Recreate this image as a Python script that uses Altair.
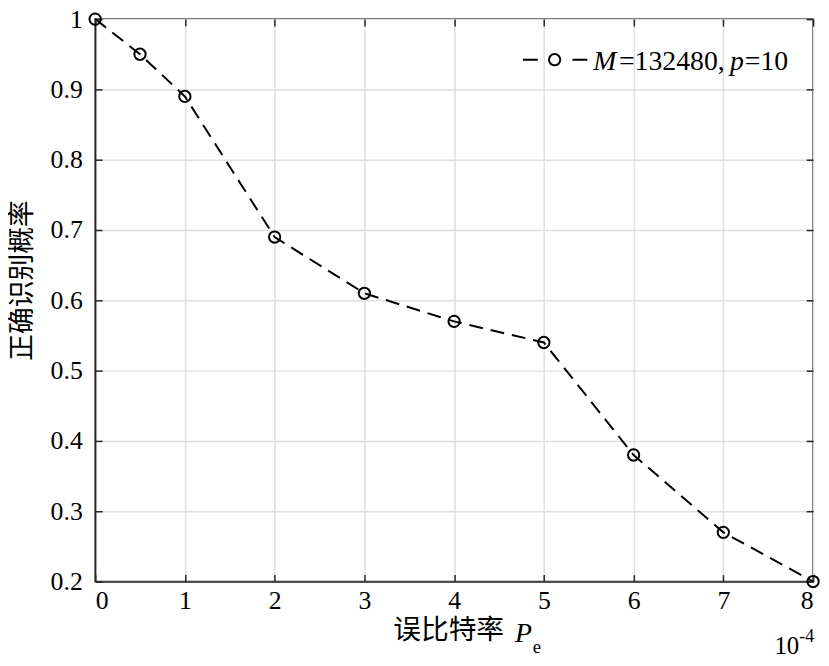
import altair as alt
import pandas as pd

# ---- data ----
x_vals = [0, 0.5, 1, 2, 3, 4, 5, 6, 7, 8]
y_vals = [1.00, 0.95, 0.89, 0.69, 0.61, 0.57, 0.54, 0.38, 0.27, 0.20]
x_ticks = [0, 1, 2, 3, 4, 5, 6, 7, 8]
y_ticks = [0.2, 0.3, 0.4, 0.5, 0.6, 0.7, 0.8, 0.9, 1.0]
x_domain = [0, 8]
y_domain = [0.2, 1.0]

y_title = "正确识别概率"
x_title_cn = "误比特率"
x_title_sym = "P"
x_title_sub = "e"
exp_base = "10"
exp_pow = "-4"
legend_parts = [("M", "italic"), ("=132480,", "normal"), ("p", "italic"), ("=10", "normal")]

df = pd.DataFrame({"x": x_vals, "y": y_vals})

W, H = 725, 568
SERIF = "'Liberation Serif', 'Times New Roman', Times, serif"
CJK = "'Noto Sans CJK SC', sans-serif"
AX = "#262626"
GRID = "#dfdfdf"

xs = alt.Scale(domain=x_domain, nice=False, zero=False)
ys = alt.Scale(domain=y_domain, nice=False, zero=False)

base = alt.Chart(df)

common_axis = dict(labelFont=SERIF, labelColor="#000000", domainColor=AX, tickColor=AX,
                   tickWidth=1.5, domainWidth=1.5, gridColor=GRID, gridWidth=1.5)

line = base.mark_line(interpolate="linear", strokeDash=[14, 8], strokeWidth=2,
                      color="#000000").encode(
    x=alt.X("x:Q", scale=xs, axis=alt.Axis(orient="bottom", values=x_ticks, grid=True, ticks=False,
                                           title=None, labelFontSize=26, labelPadding=6,
                                           format="~g", **common_axis)),
    y=alt.Y("y:Q", scale=ys, axis=alt.Axis(orient="left", values=y_ticks, grid=True, ticks=False,
                                           title=None, labelFontSize=26, labelPadding=13,
                                           format="~g", **common_axis)),
)

points = base.mark_point(shape="circle", filled=False, size=130, strokeWidth=2,
                         color="#000000", opacity=1).encode(
    x=alt.X("x:Q", scale=xs, axis=alt.Axis(orient="top", offset=-H, values=x_ticks, grid=False,
                                           ticks=True, tickSize=7, labels=False, domain=False,
                                           title=None, **common_axis)),
    y=alt.Y("y:Q", scale=ys, axis=alt.Axis(orient="right", offset=-W, values=y_ticks, grid=False,
                                           ticks=True, tickSize=7, labels=False, domain=False,
                                           title=None, **common_axis)),
)

ghost = base.mark_point(opacity=0).encode(
    x=alt.X("x:Q", scale=xs, axis=alt.Axis(orient="bottom", offset=-H, values=x_ticks, grid=False,
                                           ticks=True, tickSize=7, labels=False, domain=False,
                                           title=None, **common_axis)),
    y=alt.Y("y:Q", scale=ys, axis=alt.Axis(orient="left", offset=-W, values=y_ticks, grid=False,
                                           ticks=True, tickSize=7, labels=False, domain=False,
                                           title=None, **common_axis)),
)

one = pd.DataFrame({"k": [0]})
ann = alt.Chart(one)

# legend
leg_line = ann.mark_rule(strokeDash=[15, 35], strokeWidth=2, color="#000000").encode(
    x=alt.value(432), x2=alt.value(497), y=alt.value(41))
leg_pt = ann.mark_point(shape="circle", filled=False, size=130, strokeWidth=2,
                        color="#000000", opacity=1).encode(x=alt.value(464), y=alt.value(41))
leg_x = [503, 529, 641, 656]
leg_texts = []
for (txt, style), lx in zip(legend_parts, leg_x):
    leg_texts.append(ann.mark_text(text=txt, font=SERIF, fontSize=28, fontStyle=style,
                                   align="left", baseline="alphabetic", color="#000000").encode(
        x=alt.value(lx), y=alt.value(51)))

# axis titles
ytitle = ann.mark_text(text=y_title, font=CJK, fontSize=27, angle=270, align="center",
                       baseline="middle", color="#000000").encode(x=alt.value(-73), y=alt.value(264))
xt_cn = ann.mark_text(text=x_title_cn, font=CJK, fontSize=28, align="left", baseline="middle",
                      color="#000000").encode(x=alt.value(301), y=alt.value(618))
xt_p = ann.mark_text(text=x_title_sym, font=SERIF, fontSize=28, fontStyle="italic", align="left",
                     baseline="alphabetic", color="#000000").encode(x=alt.value(424), y=alt.value(629))
xt_e = ann.mark_text(text=x_title_sub, font=SERIF, fontSize=19, align="left",
                     baseline="alphabetic", color="#000000").encode(x=alt.value(442), y=alt.value(640))
ex_b = ann.mark_text(text=exp_base, font=SERIF, fontSize=25, align="left",
                     baseline="alphabetic", color="#000000").encode(x=alt.value(686), y=alt.value(641))
ex_p = ann.mark_text(text=exp_pow, font=SERIF, fontSize=18, align="left",
                     baseline="alphabetic", color="#000000").encode(x=alt.value(711), y=alt.value(629))

chart = alt.layer(line, points, ghost, leg_line, leg_pt, *leg_texts, ytitle, xt_cn, xt_p, xt_e,
                  ex_b, ex_p).resolve_axis(x="independent", y="independent").properties(
    width=W, height=H,
    autosize=alt.AutoSizeParams(type="none"),
    padding={"left": 88, "top": 8, "right": 8, "bottom": 74},
    background="#ffffff",
).configure_view(stroke=AX, strokeWidth=1.5)

chart.save("out.html", embed_options={"renderer": "svg", "actions": False})
